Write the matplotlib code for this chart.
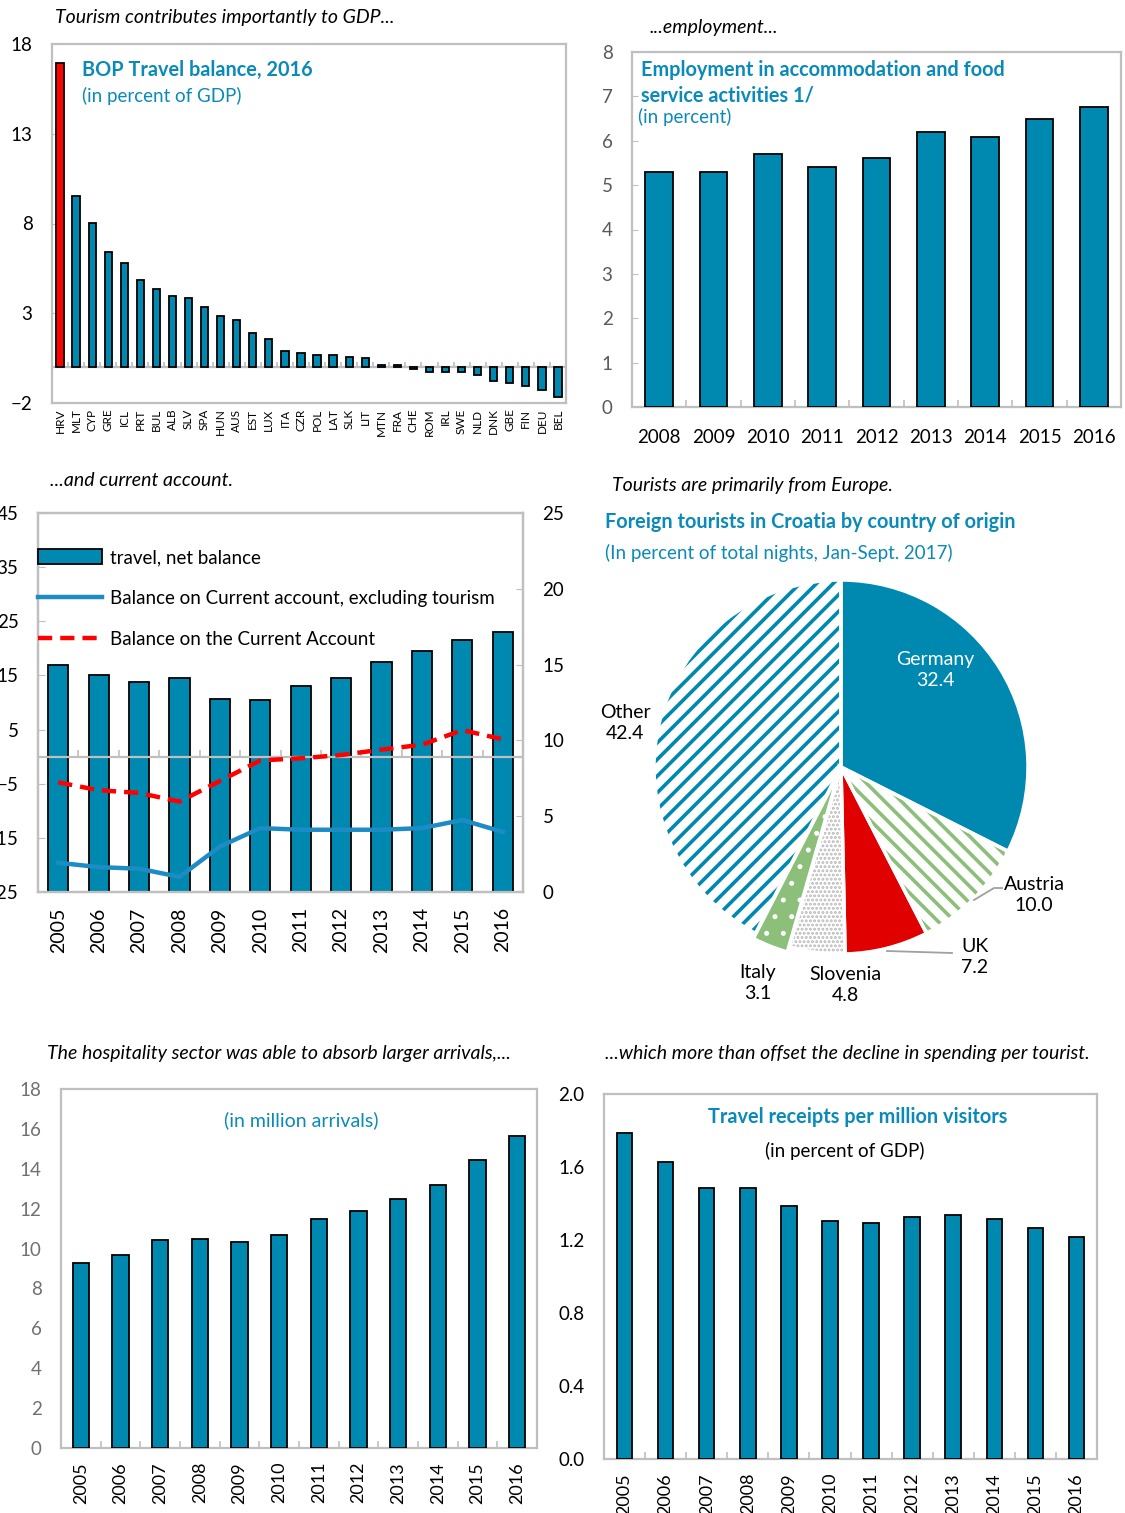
import numpy as np
import matplotlib
matplotlib.use('Agg')
import matplotlib.pyplot as plt
from matplotlib.patches import Patch
from matplotlib.lines import Line2D

# ---------------- data ----------------
countries = ['HRV', 'MLT', 'CYP', 'GRE', 'ICL', 'PRT', 'BUL', 'ALB', 'SLV', 'SPA', 'HUN',
             'AUS', 'EST', 'LUX', 'ITA', 'CZR', 'POL', 'LAT', 'SLK', 'LIT', 'MTN', 'FRA',
             'CHE', 'ROM', 'IRL', 'SWE', 'NLD', 'DNK', 'GBE', 'FIN', 'DEU', 'BEL']
bop_travel = [16.96, 9.54, 8.02, 6.39, 5.78, 4.87, 4.35, 3.94, 3.85, 3.33, 2.83,
              2.61, 1.91, 1.59, 0.89, 0.80, 0.70, 0.70, 0.59, 0.48, 0.12, 0.10,
              -0.08, -0.26, -0.26, -0.26, -0.46, -0.76, -0.87, -1.07, -1.26, -1.69]

emp_years = ['2008', '2009', '2010', '2011', '2012', '2013', '2014', '2015', '2016']
employment = [5.3, 5.3, 5.7, 5.41, 5.61, 6.19, 6.08, 6.49, 6.77]

years = ['2005', '2006', '2007', '2008', '2009', '2010', '2011', '2012', '2013',
         '2014', '2015', '2016']
travel_net = [14.96, 14.33, 13.87, 14.09, 12.76, 12.64, 13.6, 14.09, 15.2, 15.93, 16.64, 17.13]
ca_excl_tourism = [-19.6, -20.4, -20.7, -22.2, -16.6, -13.2, -13.5, -13.5, -13.5, -13.2, -11.7, -13.9]
ca_balance = [-4.75, -6.2, -6.7, -8.3, -4.5, -0.7, -0.3, 0.3, 1.3, 2.2, 4.9, 3.2]

pie_labels = ['Germany', 'Austria', 'UK', 'Slovenia', 'Italy', 'Other']
pie_values = [32.4, 10.0, 7.2, 4.8, 3.1, 42.4]

arrivals = [9.30, 9.67, 10.42, 10.48, 10.32, 10.68, 11.50, 11.87, 12.50, 13.17, 14.46, 15.64]
receipts = [1.784, 1.626, 1.485, 1.485, 1.386, 1.304, 1.295, 1.324, 1.335, 1.315, 1.264, 1.215]

# ---------------- style ----------------
TEAL = '#0089B0'
TEXTTEAL = '#0A8AB8'
RED = '#FF0000'
PIERED = '#E00000'
GREEN = '#8BBF7A'
LBLUE = '#1E8CC4'
FRAME = '#BFBFBF'
GRAY = '#595959'
plt.rcParams['font.family'] = ['Lato', 'DejaVu Sans']

W, H = 1125, 1513
fig = plt.figure(figsize=(W / 100, H / 100), dpi=100)


def add_ax(l, t, r, b):
    return fig.add_axes([l / W, 1 - b / H, (r - l) / W, (b - t) / H])


def ftext(x, y, s, **kw):
    kw.setdefault('va', 'center')
    fig.text(x / W, 1 - y / H, s, **kw)


def frame(ax):
    for s in ax.spines.values():
        s.set_color(FRAME)
        s.set_linewidth(1.6)


def bar_axis(ax, xs):
    ax.set_xlim(-0.5, len(xs) - 0.5)
    ax.set_xticks(np.arange(len(xs)) + 0.5, minor=True)
    ax.tick_params(axis='x', which='minor', direction='in', length=5, color=FRAME, width=1.2)


ITAL = 14
BOLD = 14.3
SUB = 13.5

# ---------------- top left ----------------
ax1 = add_ax(52, 44, 566, 403)
xc = np.arange(len(countries))
cols = [RED if c == 'HRV' else TEAL for c in countries]
ax1.bar(xc, bop_travel, width=0.45, color=cols, edgecolor='black', linewidth=1.3, zorder=3)
ax1.set_xlim(-0.5, len(countries) - 0.5)
ax1.set_ylim(-2, 18)
ax1.set_yticks([-2, 3, 8, 13, 18])
ax1.axhline(0, color=FRAME, lw=1.6, zorder=2)
ax1.vlines(xc[:-1] + 0.5, 0, 0.3, color=FRAME, lw=1.2, zorder=2)
ax1.set_xticks(xc)
ax1.set_xticklabels(countries, rotation=90, fontsize=8.5)
ax1.tick_params(axis='x', length=0, pad=4)
ax1.tick_params(axis='y', direction='in', length=4, color=FRAME, pad=14, labelsize=13.5)
frame(ax1)
ftext(82, 70, 'BOP Travel balance, 2016', color=TEXTTEAL, fontsize=BOLD, fontweight='bold')
ftext(82, 96, '(in percent of GDP)', color=TEXTTEAL, fontsize=SUB)
ftext(55, 18, 'Tourism contributes importantly to GDP...', fontsize=ITAL, style='italic')

# ---------------- top right ----------------
ax2 = add_ax(632, 52, 1121, 407)
xe = np.arange(len(emp_years))
ax2.bar(xe, employment, width=0.51, color=TEAL, edgecolor='black', linewidth=1.3, zorder=3)
bar_axis(ax2, emp_years)
ax2.set_ylim(0, 8)
ax2.set_yticks(range(0, 9))
ax2.set_xticks(xe)
ax2.set_xticklabels(emp_years, fontsize=13.5)
ax2.tick_params(axis='x', which='major', length=0, pad=16)
ax2.tick_params(axis='y', direction='in', length=4, color=FRAME, pad=14, labelsize=13.5,
                labelcolor=GRAY)
frame(ax2)
ftext(641, 70, 'Employment in accommodation and food', color=TEXTTEAL, fontsize=BOLD,
      fontweight='bold')
ftext(641, 96, 'service activities 1/', color=TEXTTEAL, fontsize=BOLD, fontweight='bold')
ftext(638, 117, '(in percent)', color=TEXTTEAL, fontsize=SUB)
ftext(714, 27, '...employment...', fontsize=ITAL, style='italic', ha='center')

# ---------------- middle left ----------------
ax3 = add_ax(38, 513, 523, 892)
xy = np.arange(len(years))
ax3.bar(xy, travel_net, width=0.5, color=TEAL, edgecolor='black', linewidth=1.3, zorder=3)
bar_axis(ax3, years)
ax3.tick_params(axis='x', which='minor', length=0)
ax3.set_ylim(0, 25)
ax3.set_yticks(range(0, 26, 5))
ax3.set_xticks(xy)
ax3.set_xticklabels(years, rotation=90, fontsize=14)
ax3.tick_params(axis='x', which='major', length=0, pad=11)
frame(ax3)
ax3b = ax3.twinx()
ax3.yaxis.tick_right()
ax3.tick_params(axis='y', direction='in', length=5, color=FRAME, pad=14, labelsize=13.5)
ax3b.yaxis.tick_left()
ax3b.set_ylim(-25, 45)
ax3b.set_yticks(range(-25, 46, 10))
ax3b.tick_params(axis='y', direction='in', length=5, color=FRAME, pad=14, labelsize=13.5)
ax3b.axhline(0, color=FRAME, lw=1.6, zorder=2)
ax3b.vlines(xy[:-1] + 0.5, 0, 1.3, color=FRAME, lw=1.2, zorder=2)
ax3b.plot(xy, ca_excl_tourism, color=LBLUE, lw=3.2, zorder=4)
ax3b.plot(xy, ca_balance, color=RED, lw=3.2, dashes=(3.2, 1.8), zorder=5)
frame(ax3b)
handles = [Patch(facecolor=TEAL, edgecolor='black', linewidth=1.3),
           Line2D([], [], color=LBLUE, lw=3.2),
           Line2D([], [], color=RED, lw=3.2, dashes=(3.2, 1.8))]
ax3b.legend(handles, ['travel, net balance', 'Balance on Current account, excluding tourism',
                      'Balance on the Current Account'],
            loc='upper left', bbox_to_anchor=(0.0, 0.905), frameon=False, fontsize=13.5,
            handlelength=3.4, handleheight=0.8, handletextpad=0.45, labelspacing=1.28,
            borderaxespad=0, borderpad=0)
ftext(50, 480, '...and current account.', fontsize=ITAL, style='italic')

# ---------------- pie ----------------
PX, PY, PR = 841, 767, 187
half = 215
axp = add_ax(PX - half, PY - half, PX + half, PY + half)
faces = [TEAL, 'white', PIERED, 'white', GREEN, 'white']
hcols = [TEAL, GREEN, PIERED, '#B8B8B8', 'white', TEAL]
hatches = [None, '\\\\', None, '....', '.', '//']
hlw = [1, 2.6, 1, 1.4, 1.2, 2.6]
explode = [0, 0, 0, 0, 0.03, 0]
wedges, _ = axp.pie(pie_values, startangle=90, counterclock=False, radius=1,
                    explode=explode, colors=faces, wedgeprops=dict(linewidth=0))
for w, fc, hc, h, lw in zip(wedges, faces, hcols, hatches, hlw):
    w.set_facecolor(fc)
    w.set_edgecolor(hc)
    w.set_linewidth(0)
    if h:
        w.set_hatch(h)
        if hasattr(w, 'set_hatch_linewidth'):
            w.set_hatch_linewidth(lw)
axp.pie(pie_values, startangle=90, counterclock=False, radius=1, explode=explode,
        colors=['none'] * len(pie_values),
        wedgeprops=dict(linewidth=2.5, edgecolor='white', fill=False))
lim = half / PR
axp.set_xlim(-lim, lim)
axp.set_ylim(-lim, lim)
axp.set_aspect('auto')
axp.axis('off')


def ptext(px, py, s, **kw):
    axp.text((px - PX) / PR, (PY - py) / PR, s, ha='center', va='center',
             fontsize=14, linespacing=1.3, **kw)


ptext(935, 670, f'{pie_labels[0]}\n{pie_values[0]:.1f}', color='white')
ptext(625, 723, f'{pie_labels[5]}\n{pie_values[5]:.1f}')
ptext(1034, 895, f'{pie_labels[1]}\n{pie_values[1]:.1f}')
ptext(975, 957, f'{pie_labels[2]}\n{pie_values[2]:.1f}')
ptext(845, 985, f'{pie_labels[3]}\n{pie_values[3]:.1f}')
ptext(758, 983, f'{pie_labels[4]}\n{pie_values[4]:.1f}')
axp.plot([(974 - PX) / PR, (994 - PX) / PR, (1002 - PX) / PR],
         [(PY - 900) / PR, (PY - 888) / PR, (PY - 888) / PR], color='#A0A0A0', lw=1.3)
axp.plot([(887 - PX) / PR, (952 - PX) / PR], [(PY - 951) / PR, (PY - 953) / PR],
         color='#A0A0A0', lw=1.3)
ftext(612, 485, 'Tourists are primarily from Europe.', fontsize=ITAL, style='italic')
ftext(605, 522, 'Foreign tourists in Croatia by country of origin', color=TEXTTEAL,
      fontsize=BOLD, fontweight='bold')
ftext(605, 553, '(In percent of total nights, Jan-Sept. 2017)', color=TEXTTEAL, fontsize=SUB)

# ---------------- bottom left ----------------
ax5 = add_ax(61, 1089, 537, 1448)
ax5.bar(xy, arrivals, width=0.42, color=TEAL, edgecolor='black', linewidth=1.3, zorder=3)
bar_axis(ax5, years)
ax5.set_ylim(0, 18)
ax5.set_yticks(range(0, 19, 2))
ax5.set_xticks(xy)
ax5.set_xticklabels(years, rotation=90, fontsize=13)
ax5.tick_params(axis='x', which='major', length=0, pad=10)
ax5.tick_params(axis='y', length=0, pad=14, labelsize=13.5, labelcolor='#707070')
frame(ax5)
ftext(301, 1120, '(in million arrivals)', color=TEXTTEAL, fontsize=14, ha='center')
ftext(47, 1053, 'The hospitality sector was able to absorb larger arrivals,...', fontsize=ITAL,
      style='italic')

# ---------------- bottom right ----------------
ax6 = add_ax(604, 1094, 1097, 1459)
ax6.bar(xy, receipts, width=0.376, color=TEAL, edgecolor='black', linewidth=1.3, zorder=3)
bar_axis(ax6, years)
ax6.set_ylim(0, 2.0)
ax6.set_yticks(np.arange(0, 2.01, 0.4))
ax6.set_yticklabels([f'{v:.1f}' for v in np.arange(0, 2.01, 0.4)])
ax6.set_xticks(xy)
ax6.set_xticklabels(years, rotation=90, fontsize=13)
ax6.tick_params(axis='x', which='major', length=0, pad=10)
ax6.tick_params(axis='y', length=0, pad=14, labelsize=13.5)
frame(ax6)
ftext(858, 1117, 'Travel receipts per million visitors', color=TEXTTEAL, fontsize=BOLD,
      fontweight='bold', ha='center')
ftext(845, 1151, '(in percent of GDP)', fontsize=13.5, ha='center')
ftext(605, 1053, '...which more than offset the decline in spending per tourist.',
      fontsize=ITAL, style='italic')

fig.savefig('out.png', dpi=100)
